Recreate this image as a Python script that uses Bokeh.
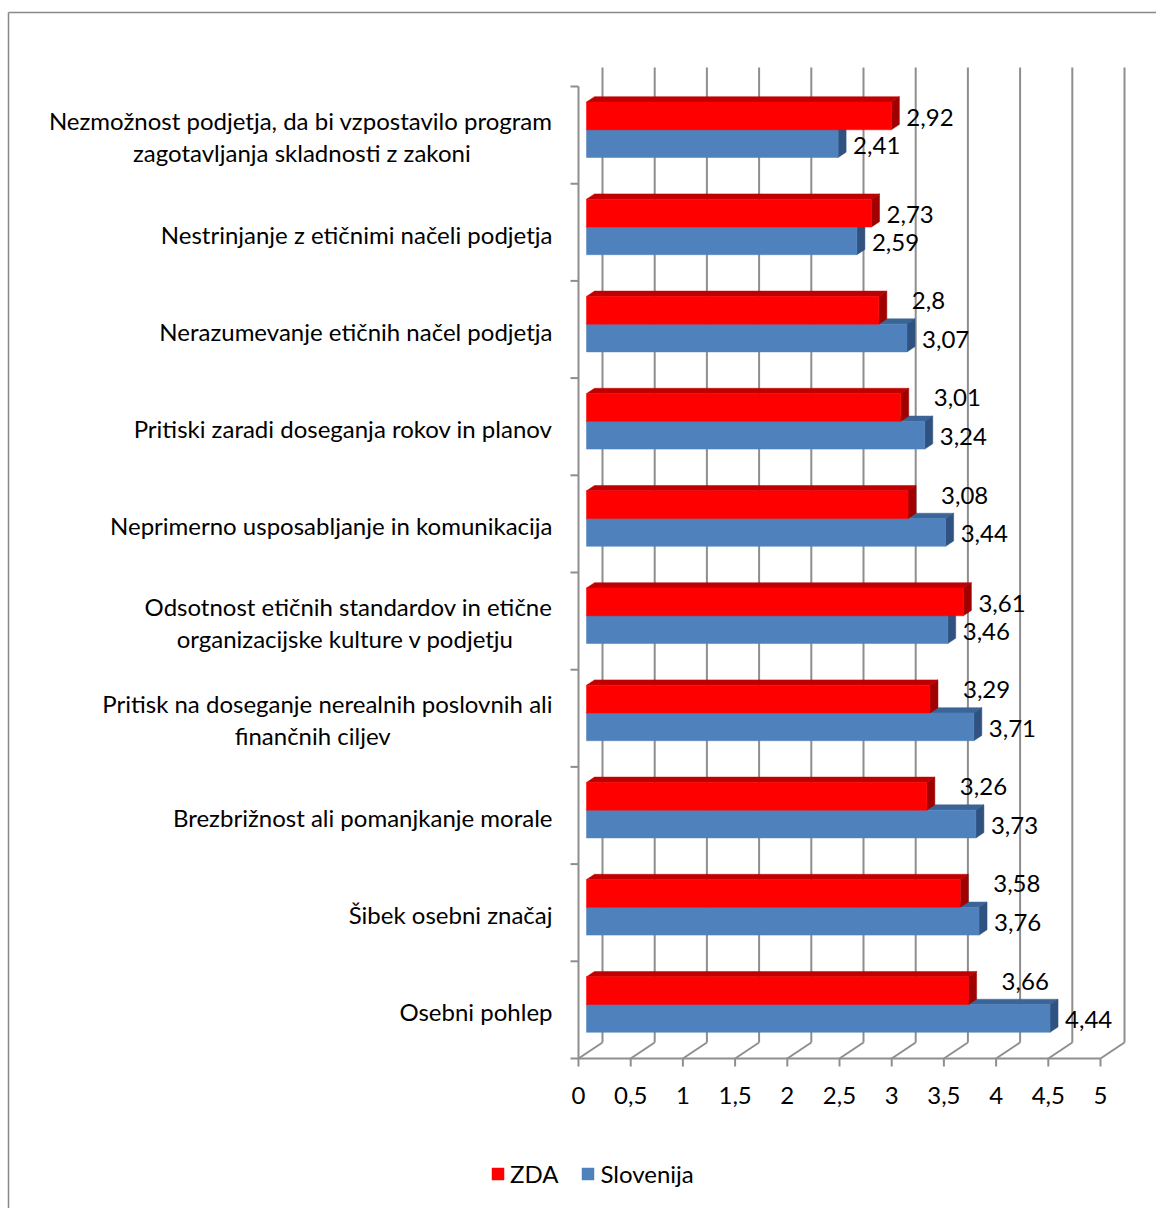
from bokeh.plotting import figure
from bokeh.models import Range1d, Legend, LegendItem
from bokeh.core.properties import value
from bokeh.embed import file_html
from bokeh.resources import INLINE

# ---------------- data ----------------
categories = [
    "Nezmožnost podjetja, da bi vzpostavilo program\nzagotavljanja skladnosti z zakoni",
    "Nestrinjanje z etičnimi načeli podjetja",
    "Nerazumevanje etičnih načel podjetja",
    "Pritiski zaradi doseganja rokov in planov",
    "Neprimerno usposabljanje in komunikacija",
    "Odsotnost etičnih standardov in etične\norganizacijske kulture v podjetju",
    "Pritisk na doseganje nerealnih poslovnih ali\nfinančnih ciljev",
    "Brezbrižnost ali pomanjkanje morale",
    "Šibek osebni značaj",
    "Osebni pohlep",
]
zda = [2.92, 2.73, 2.8, 3.01, 3.08, 3.61, 3.29, 3.26, 3.58, 3.66]
slovenija = [2.41, 2.59, 3.07, 3.24, 3.44, 3.46, 3.71, 3.73, 3.76, 4.44]
series_names = ["ZDA", "Slovenija"]
tick_values = [0, 0.5, 1, 1.5, 2, 2.5, 3, 3.5, 4, 4.5, 5]
tick_labels = ["0", "0,5", "1", "1,5", "2", "2,5", "3", "3,5", "4", "4,5", "5"]

# ---------------- geometry / style ----------------
W, H = 1156, 1208
X0_PX, PXV = 578, 104.4        # pixel of value 0 (front plane), pixels per value unit
FLOOR_PX, PXB = 1058, 97.2     # pixel of floor front edge, pixels per category band
DX, DY = 24 / PXV, 16 / PXB    # full depth offset (to the back wall)
D0, D1 = 1 / 3, 2 / 3          # bar depth span
BAR_H = 27.75 / PXB
WALL_TOP = len(categories) + 0.03
FONT = value("Lato")
FS = "24px"
GRID = "#8e8e8e"

RED = ("#ff0000", "#c00000", "#a00000")     # front, top, side
BLUE = ("#4f81bd", "#3c6597", "#2f5280")


def P(x, y, d):
    return x + d * DX, y + d * DY


def quad(pts):
    xs, ys = zip(*pts)
    return list(xs), list(ys)


p = figure(width=W, height=H, output_backend="svg", toolbar_location=None,
           x_range=Range1d(-X0_PX / PXV, (W - X0_PX) / PXV),
           y_range=Range1d(-(H - FLOOR_PX) / PXB, FLOOR_PX / PXB),
           min_border=0)
p.axis.visible = False
p.grid.visible = False
p.outline_line_color = None
p.background_fill_color = "white"
p.border_fill_color = "white"

n = len(categories)
xmin, xmax = tick_values[0], tick_values[-1]

# outer chart border (left and top edges)
bx = p.x_range.start + 8 / PXV
by = p.y_range.end - 12 / PXB
p.segment(x0=[bx, bx], y0=[p.y_range.start, by], x1=[bx, p.x_range.end], y1=[by, by],
          line_color="#888888", line_width=1.5)

# back wall gridlines and floor
for v in tick_values:
    (x0, y0), (x1, y1) = P(v, 0, 1), P(v, WALL_TOP, 1)
    p.segment(x0=[x0], y0=[y0], x1=[x1], y1=[y1], line_color=GRID, line_width=2)
    (fx, fy), (bx2, by2) = P(v, 0, 0), P(v, 0, 1)
    p.segment(x0=[fx], y0=[fy], x1=[bx2], y1=[by2], line_color=GRID, line_width=2)
    p.segment(x0=[v], y0=[0], x1=[v], y1=[-8 / PXB], line_color=GRID, line_width=2)

# floor front edge and vertical axis
p.segment(x0=[xmin], y0=[0], x1=[xmax], y1=[0], line_color=GRID, line_width=2)
p.segment(x0=[xmin], y0=[0], x1=[xmin], y1=[n], line_color=GRID, line_width=2)
p.segment(x0=[xmin - 8 / PXV] * (n + 1), y0=list(range(n + 1)),
          x1=[xmin] * (n + 1), y1=list(range(n + 1)), line_color=GRID, line_width=2)

# x tick labels
p.text(x=tick_values, y=[-37 / PXB] * len(tick_values), text=tick_labels,
       text_font=FONT, text_font_size=FS, text_align="center",
       text_baseline="middle", text_color="black")


def bar_faces(vals, lower):
    front, top, side = ([], []), ([], []), ([], [])
    for i, v in enumerate(vals):
        c = n - i - 0.5
        y0, y1 = (c - BAR_H, c) if lower else (c, c + BAR_H)
        for acc, pts in ((front, [P(0, y0, D0), P(v, y0, D0), P(v, y1, D0), P(0, y1, D0)]),
                         (top, [P(0, y1, D0), P(v, y1, D0), P(v, y1, D1), P(0, y1, D1)]),
                         (side, [P(v, y0, D0), P(v, y0, D1), P(v, y1, D1), P(v, y1, D0)])):
            xs, ys = quad(pts)
            acc[0].append(xs)
            acc[1].append(ys)
    return front, top, side


renderers = {}
for name, vals, lower, cols in (("Slovenija", slovenija, True, BLUE), ("ZDA", zda, False, RED)):
    front, top, side = bar_faces(vals, lower)
    p.patches(xs=top[0], ys=top[1], fill_color=cols[1], line_color=cols[1], line_width=0.5)
    p.patches(xs=side[0], ys=side[1], fill_color=cols[2], line_color=cols[2], line_width=0.5)
    renderers[name] = p.patches(xs=front[0], ys=front[1], fill_color=cols[0],
                                line_color=cols[0], line_width=0.5)

# data labels
lx, ly, lt = [], [], []
for i in range(n):
    c = n - i - 0.5
    r, b = zda[i], slovenija[i]
    push = b > r
    lx.append(r + D0 * DX + (15 + (18 if push else 0)) / PXV)
    ly.append(c + BAR_H / 2 + D0 * DY + ((11 if push else 0) - 1.5) / PXB)
    lt.append(f"{r:g}".replace(".", ","))
    lx.append(b + D0 * DX + 15 / PXV)
    ly.append(c - BAR_H / 2 + D0 * DY - 1.5 / PXB)
    lt.append(f"{b:g}".replace(".", ","))
p.text(x=lx, y=ly, text=lt, text_font=FONT, text_font_size=FS,
       text_align="left", text_baseline="middle", text_color="black")

# category labels: longest line right-aligned, other lines centred under it
LABEL_RIGHT = xmin - 26 / PXV
CHAR_W = 10.9
cx, cy, ct, ca = [], [], [], []
for i, cat in enumerate(categories):
    c = n - i - 0.5
    lines = cat.split("\n")
    if len(lines) == 1:
        cx.append(LABEL_RIGHT); cy.append(c - 2 / PXB); ct.append(cat); ca.append("right")
    else:
        longest = max(lines, key=len)
        w = len(longest) * CHAR_W
        for k, s in enumerate(lines):
            if s == longest:
                cx.append(LABEL_RIGHT); ca.append("right")
            else:
                cx.append(LABEL_RIGHT - w / 2 / PXV); ca.append("center")
            cy.append(c + (14.6 - 32 * k) / PXB)
            ct.append(s)
for align in ("right", "center"):
    idx = [j for j, a in enumerate(ca) if a == align]
    p.text(x=[cx[j] for j in idx], y=[cy[j] for j in idx], text=[ct[j] for j in idx],
           text_font=FONT, text_font_size=FS, text_align=align,
           text_baseline="middle", text_color="black")

legend = Legend(items=[LegendItem(label=s, renderers=[renderers[s]]) for s in series_names],
                orientation="horizontal", location=(490, 20),
                glyph_width=15, glyph_height=15, label_standoff=5, spacing=22,
                padding=0, margin=0, border_line_color=None, background_fill_alpha=0,
                label_text_font="Lato", label_text_font_size=FS, label_text_color="black")
p.add_layout(legend)

open("out.html", "w").write(file_html(p, INLINE))
